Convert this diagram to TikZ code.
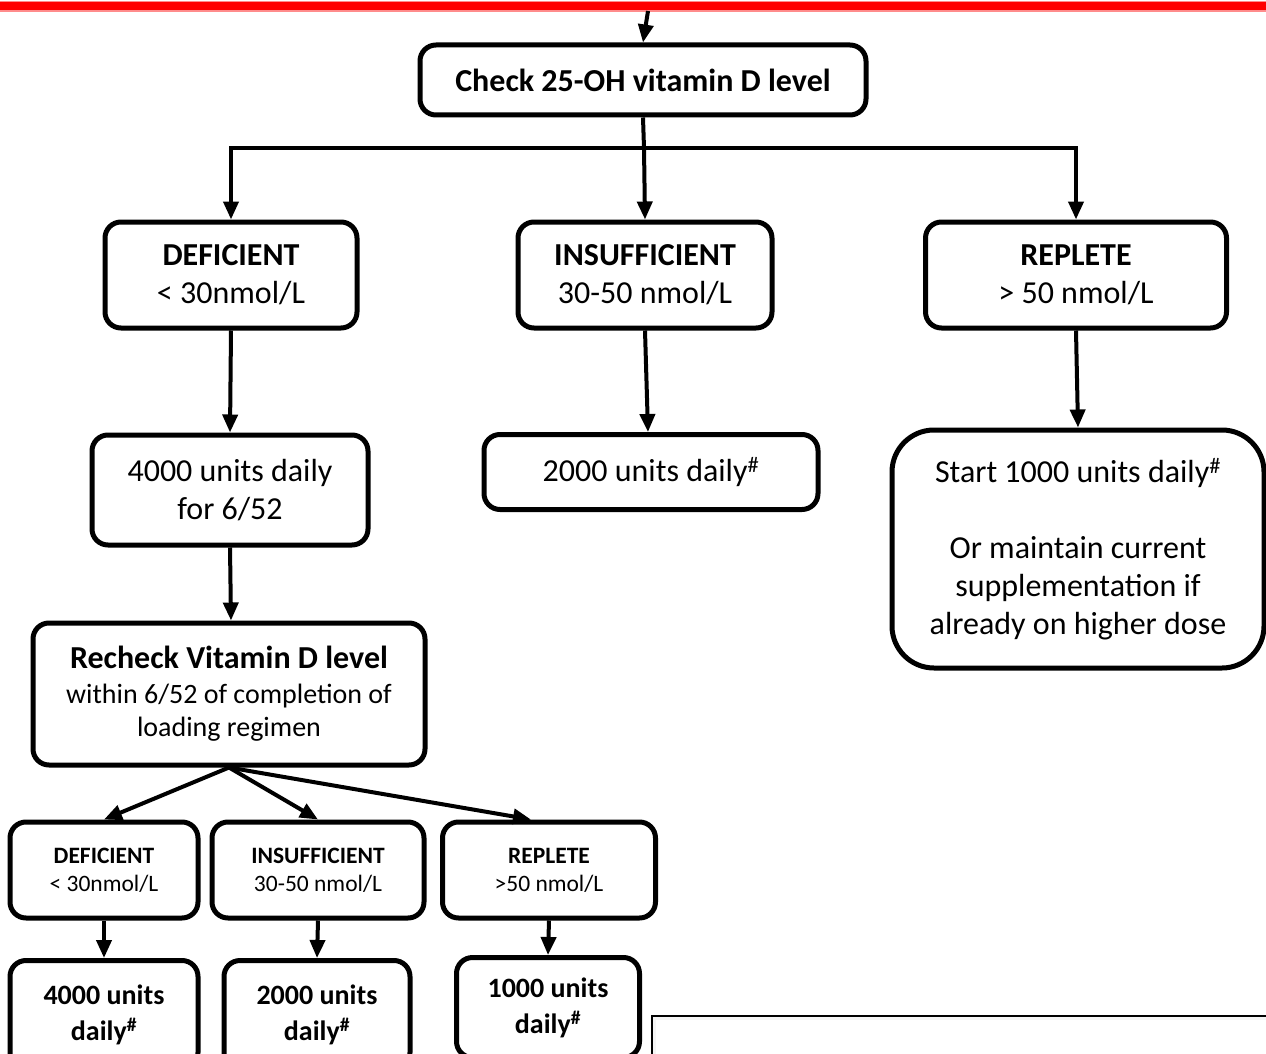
\documentclass[tikz,border=0pt]{standalone}
\usepackage{fontspec}
\setmainfont{Carlito}
\usetikzlibrary{calc}
\usetikzlibrary{arrows.meta}
\tikzset{
 box/.style={draw=black, line width=5pt, rounded corners=16pt, align=center, fill=white, inner sep=4pt},
 arr/.style={line width=4pt, -{Triangle[length=18pt,width=15pt]}},
 big/.style={font=\fontsize{32}{38}\selectfont},
 small/.style={font=\fontsize{23.5}{28}\selectfont},
 dose/.style={font=\fontsize{28}{36}\selectfont\bfseries, anchor=north}
}

\begin{document}
\begin{tikzpicture}[x=1pt,y=-1pt]
\path[use as bounding box, clip] (0,0) rectangle (1266,1054);
\fill[white] (0,0) rectangle (1266,1054);
% red bar at the top
\draw[red!45, line width=11pt] (0,7) -- (1266,7);
\draw[red, line width=8pt] (0,6) -- (1266,6);
\coordinate (entry) at (648,11);
% first level
\node[box, big, minimum width=446pt, minimum height=70pt] (check) at (643,80) {\textbf{Check 25-OH vitamin D level}};
\coordinate (split) at (644,148);
\node[box, big, minimum width=252pt, minimum height=106pt] (def) at (231,275) {\textbf{DEFICIENT}\\< 30nmol/L};
\node[box, big, minimum width=254pt, minimum height=106pt] (ins) at (645,275) {\textbf{INSUFFICIENT}\\30-50 nmol/L};
\node[box, big, minimum width=301pt, minimum height=106pt] (rep) at (1076,275) {\textbf{REPLETE}\\> 50 nmol/L};
% doses
\node[box, big, minimum width=276pt, minimum height=110pt] (load) at (230,490) {4000 units daily\\for 6/52};
\node[box, big, minimum width=334pt, minimum height=75pt] (insdose) at (651,472) {2000 units daily\textsuperscript{\#}};
\node[box, big, rounded corners=42pt, minimum width=372pt, minimum height=238pt] (repdose) at (1078,549) {Start 1000 units daily\textsuperscript{\#}\\[38pt]Or maintain current\\supplementation if\\already on higher dose};
% recheck
\node[box, font=\fontsize{28}{33}\selectfont, minimum width=392pt, minimum height=142pt] (recheck) at (229,694) {\textbf{\fontsize{32}{33}\selectfont Recheck Vitamin D level}\\[2pt]within 6/52 of completion of\\loading regimen};
% second level
\node[box, small, minimum width=188pt, minimum height=96pt] (sdef) at (104,870) {\textbf{DEFICIENT}\\< 30nmol/L};
\node[box, small, minimum width=212pt, minimum height=96pt] (sins) at (318,870) {\textbf{INSUFFICIENT}\\30-50 nmol/L};
\node[box, small, minimum width=213pt, minimum height=96pt] (srep) at (549,870) {\textbf{REPLETE}\\>50 nmol/L};
\node[box, dose, minimum width=188pt, minimum height=108pt] (d4000) at (104,958) {4000 units\\daily\textsuperscript{\#}};
\node[box, dose, minimum width=186pt, minimum height=108pt] (d2000) at (317,958) {2000 units\\daily\textsuperscript{\#}};
\node[box, dose, minimum width=183pt, minimum height=100pt] (d1000) at (548,955) {1000 units\\daily\textsuperscript{\#}};
% partly hidden box
\draw[black, line width=2pt, fill=gray!8] (652,1016) rectangle (1280,1070);
\draw[white, fill=white] (656,1020) rectangle (1280,1070);
% connectors
\draw[arr] (entry) -- (check.north);
\draw[line width=4pt] (check.south) -- (split);
\draw[arr] (split) -| (def.north);
\draw[arr] (split) -- (ins.north);
\draw[arr] (split) -| (rep.north);
\draw[arr] (def.south) -- (load.north);
\draw[arr] (ins.south) -- ($(insdose.north)+(-3,0)$);
\draw[arr] (rep.south) -- (repdose.north);
\draw[arr] (load.south) -- ($(recheck.north)+(2,0)$);
\draw[arr] (recheck.south) -- (sdef.north);
\draw[arr] (recheck.south) -- (sins.north);
\draw[arr] (recheck.south) -- ($(srep.north)+(-18,0)$);
\draw[arr] (sdef.south) -- (d4000.north);
\draw[arr] (sins.south) -- (d2000.north);
\draw[arr] (srep.south) -- (d1000.north);
\end{tikzpicture}
\end{document}
